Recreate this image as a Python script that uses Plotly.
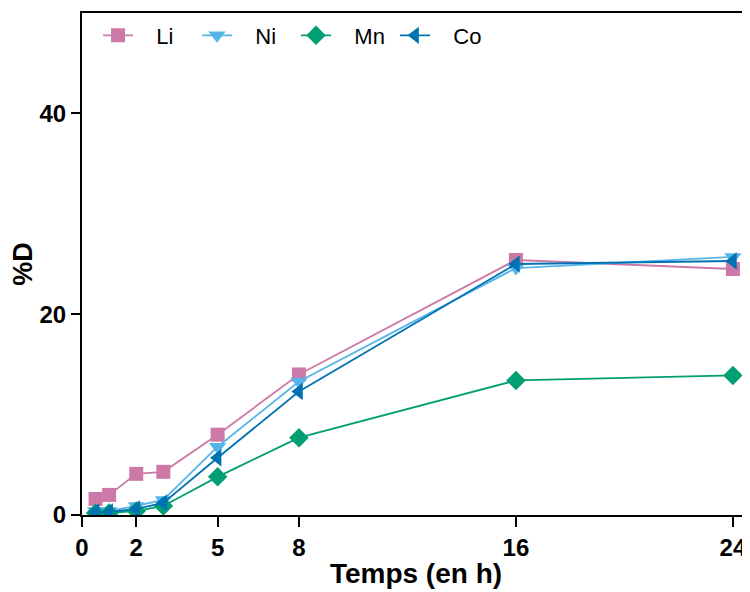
import plotly.graph_objects as go

time_h = [0.5, 1, 2, 3, 5, 8, 16, 24]
li = [1.6, 2.0, 4.1, 4.3, 8.0, 14.0, 25.4, 24.5]
ni = [0.4, 0.4, 0.9, 1.5, 6.8, 13.3, 24.6, 25.7]
mn = [0.2, 0.2, 0.4, 0.9, 3.8, 7.7, 13.4, 13.9]
co = [0.3, 0.3, 0.6, 1.2, 5.7, 12.3, 25.0, 25.3]

series_names = ["Li", "Ni", "Mn", "Co"]
series_values = [li, ni, mn, co]
colors = ["#CC79A7", "#56B4E9", "#009E73", "#0072B2"]
symbols = ["square", "triangle-down", "diamond", "triangle-left"]
marker_sizes = [14, 15, 15, 15]
x_ticks = [0, 2, 5, 8, 16, 24]
y_ticks = [0, 20, 40]

fig = go.Figure()
for name, vals, c, s, ms in zip(series_names, series_values, colors, symbols, marker_sizes):
    fig.add_trace(go.Scatter(
        x=time_h, y=vals, name="&nbsp;&nbsp;&nbsp;" + name, mode="lines+markers",
        line=dict(color=c, width=1.8),
        marker=dict(symbol=s, size=ms, color=c),
    ))

font_family = "Liberation Sans, Arial, sans-serif"
fig.update_layout(
    width=742, height=584,
    margin=dict(l=74, r=0, t=5, b=77),
    plot_bgcolor="white", paper_bgcolor="white",
    font=dict(family=font_family, color="black"),
    showlegend=True,
    legend=dict(orientation="h", x=0.024, y=0.997, xanchor="left", yanchor="top",
                entrywidth=54, entrywidthmode="pixels",
                font=dict(size=22, family=font_family), bgcolor="rgba(0,0,0,0)"),
)
fig.update_xaxes(
    range=[0, 24.63], tickvals=x_ticks, ticktext=[str(t) for t in x_ticks],
    automargin=False,
    showgrid=False, zeroline=False, showline=True, linecolor="black", linewidth=2,
    mirror=True, ticks="outside", ticklen=10, tickwidth=1.5, tickcolor="black",
    tickfont=dict(size=24, weight="bold"),
    title=dict(text="<b>Temps (en h)</b>", font=dict(size=28), standoff=4),
)
fig.update_yaxes(
    range=[0, 50], tickvals=y_ticks, automargin=False,
    showgrid=False, zeroline=False, showline=True, linecolor="black", linewidth=2,
    ticks="outside", ticklen=9, tickwidth=1.5, tickcolor="black",
    tickfont=dict(size=24, weight="bold"),
    title=dict(text="<b>%D</b>", font=dict(size=27), standoff=2),
)
fig.write_html("out.html")
